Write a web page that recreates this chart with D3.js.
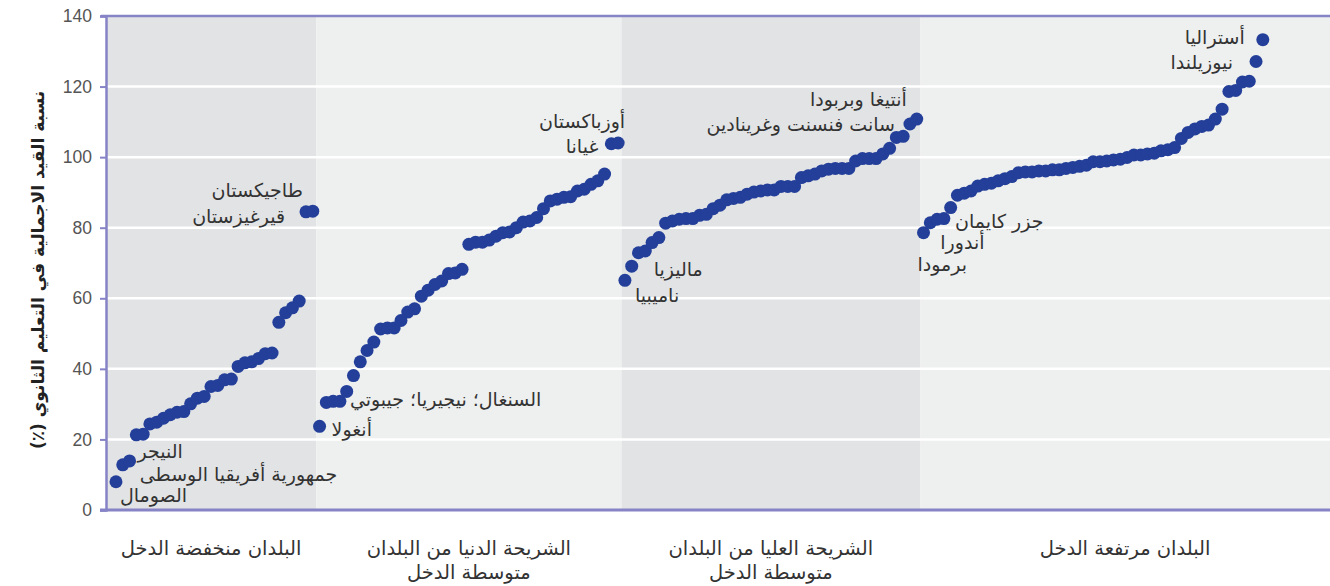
<!DOCTYPE html>
<html lang="ar">
<head>
<meta charset="utf-8">
<title>نسبة القيد الاجمالية في التعليم الثانوي</title>
<script src="https://cdn.jsdelivr.net/npm/d3@7"></script>
<style>
  body { margin: 0; background: #fff; }
  svg text { font-family: "DejaVu Sans", "Noto Sans", sans-serif; }
</style>
</head>
<body>
<div id="chart"></div>
<script>
// income groups (sorted within each group)
var groups = ["البلدان منخفضة الدخل", "الشريحة الدنيا من البلدان|متوسطة الدخل",
              "الشريحة العليا من البلدان|متوسطة الدخل", "البلدان مرتفعة الدخل"];

var lowIncome = [8.0, 12.8, 13.9, 21.3, 21.5, 24.4, 24.9, 26.0, 27.0, 27.7, 27.9, 30.1, 31.7, 32.2, 35.0,
  35.3, 36.9, 37.1, 40.7, 41.7, 42.0, 42.9, 44.3, 44.5, 53.2, 55.9, 57.3, 59.2, 84.5, 84.7];

var lowerMiddle = [23.7, 30.5, 30.8, 30.8, 33.6, 38.1, 42.0, 45.2, 47.6, 51.3, 51.6, 51.6, 53.7, 56.1, 57.0,
  60.6, 62.3, 63.9, 64.9, 67.0, 67.2, 68.2, 75.3, 75.9, 75.9, 76.5, 77.6, 78.6, 78.8, 80.0, 81.6, 81.9,
  82.9, 85.4, 87.6, 88.1, 88.6, 88.8, 90.4, 90.9, 92.3, 93.3, 95.2, 103.8, 104.0];

var upperMiddle = [65.1, 69.1, 72.9, 73.4, 75.8, 77.2, 81.3, 81.9, 82.4, 82.6, 82.6, 83.5, 83.8, 85.4, 86.4,
  87.9, 88.3, 88.6, 89.5, 90.1, 90.4, 90.7, 90.7, 91.7, 91.7, 91.7, 94.2, 94.7, 95.2, 96.1, 96.6, 96.8,
  96.8, 96.8, 98.9, 99.6, 99.6, 99.6, 100.9, 102.5, 105.6, 105.9, 109.4, 110.8];

var highIncome = [78.6, 81.4, 82.4, 82.6, 85.7, 89.2, 89.8, 90.4, 91.8, 92.3, 92.6, 93.3, 93.9, 94.5, 95.6,
  95.8, 95.8, 96.1, 96.1, 96.4, 96.4, 96.8, 97.1, 97.4, 97.7, 98.7, 98.7, 98.9, 99.2, 99.4, 99.9, 100.6,
  100.6, 100.9, 101.1, 101.8, 102.1, 102.7, 105.3, 107.0, 108.0, 108.7, 109.1, 110.8, 113.6, 118.6, 118.9,
  121.3, 121.5, 127.1, 133.3];

var yTicks = [0, 20, 40, 60, 80, 100, 120, 140];

// labelled countries: point index, label, offset from the dot, anchor
var labels = [
  [0, "الصومال", 4, 13, "start"],
  [1, "جمهورية أفريقيا الوسطى", 17, 9, "start"],
  [2, "النيجر", 8, -10, "start"],
  [28, "قيرغيزستان", -21, 4, "end"],
  [29, "طاجيكستان", -10, -21, "end"],
  [30, "أنغولا", 12, 3, "start"],
  [33, "السنغال؛ نيجيريا؛ جيبوتي", 10, -2, "start"],
  [73, "غيانا", -13, 2, "end"],
  [74, "أوزباكستان", 7, -22, "end"],
  [75, "ناميبيا", 10, 15, "start"],
  [76, "ماليزيا", 22, 3, "start"],
  [117, "سانت فنسنت وغرينادين", -15, 0, "end"],
  [118, "أنتيغا وبربودا", -10, -20, "end"],
  [119, "برمودا", -6, 31, "start"],
  [120, "أندورا", 10, 19, "start"],
  [121, "جزر كايمان", 18, 2, "start"],
  [168, "نيوزيلندا", -23, 0, "end"],
  [169, "أستراليا", -18, -3, "end"]
];

var width = 1330, height = 586;
var plotLeft = 106, plotRight = 1330, plotTop = 16, plotBottom = 510;

var series = [lowIncome, lowerMiddle, upperMiddle, highIncome];
var points = [];
var bands = [];
var idx = 0;
series.forEach(function (s, g) {
  bands.push([idx - 0.5, idx + s.length - 0.5]);
  s.forEach(function (v) { points.push({ i: idx++, v: v, g: g }); });
});

var x = d3.scaleLinear().domain([-1.47, 178.9]).range([plotLeft, plotRight]);
var y = d3.scaleLinear().domain([0, 140]).range([plotBottom, plotTop]);
bands[0][0] = x.domain()[0];
bands[3][1] = x.domain()[1];

var svg = d3.select("#chart").append("svg")
  .attr("width", width).attr("height", height);

// band backgrounds
svg.selectAll(".band").data(bands).enter().append("rect")
  .attr("x", function (d) { return x(d[0]); })
  .attr("width", function (d) { return x(d[1]) - x(d[0]); })
  .attr("y", plotTop).attr("height", plotBottom - plotTop)
  .attr("fill", function (d, i) { return i % 2 == 0 ? "#e2e3e5" : "#eeefef"; });

// white gridlines
svg.selectAll(".grid").data(yTicks.slice(1, -1)).enter().append("line")
  .attr("x1", plotLeft).attr("x2", plotRight)
  .attr("y1", function (d) { return y(d); }).attr("y2", function (d) { return y(d); })
  .attr("stroke", "#fff").attr("stroke-width", 2.5);

// y axis
var axis = svg.append("g").attr("transform", "translate(" + plotLeft + ",0)")
  .call(d3.axisLeft(y).tickValues(yTicks).tickSize(6).tickPadding(8));
axis.select(".domain").attr("stroke", "#8683c6").attr("stroke-width", 2.5);
axis.selectAll(".tick line").attr("stroke", "#8683c6").attr("stroke-width", 2);
axis.selectAll(".tick text").attr("fill", "#555").style("font-size", "17.5px")
  .style("font-family", "'Liberation Sans', Arial, sans-serif");

// top and bottom lines
svg.append("line").attr("x1", plotLeft - 5).attr("x2", plotRight)
  .attr("y1", y(140)).attr("y2", y(140)).attr("stroke", "#8683c6").attr("stroke-width", 2.5);
svg.append("line").attr("x1", plotLeft - 6).attr("x2", plotRight)
  .attr("y1", y(0)).attr("y2", y(0)).attr("stroke", "#8683c6").attr("stroke-width", 3);

// dots
svg.selectAll(".dot").data(points).enter().append("circle")
  .attr("cx", function (d) { return x(d.i); })
  .attr("cy", function (d) { return y(d.v); })
  .attr("r", 6.5)
  .attr("fill", "#233f99");

// country labels
svg.selectAll(".lab").data(labels).enter().append("text")
  .attr("x", function (d) { return x(d[0]) + d[2]; })
  .attr("y", function (d) { return y(points[d[0]].v) + d[3]; })
  .attr("dominant-baseline", "central")
  .attr("text-anchor", function (d) { return d[4]; })
  .attr("fill", "#333")
  .style("font-size", "19px")
  .text(function (d) { return d[1]; });

// group labels under the axis
groups.forEach(function (g, i) {
  var cx = x((bands[i][0] + bands[i][1]) / 2);
  g.split("|").forEach(function (line, j) {
    svg.append("text")
      .attr("x", cx).attr("y", 548 + j * 24)
      .attr("text-anchor", "middle")
      .attr("dominant-baseline", "central")
      .attr("fill", "#333")
      .style("font-size", "19.5px")
      .text(line);
  });
});

// y axis title
svg.append("text")
  .attr("transform", "translate(38,270) rotate(-90)")
  .attr("direction", "rtl")
  .attr("text-anchor", "middle")
  .attr("dominant-baseline", "central")
  .attr("fill", "#222")
  .style("font-size", "17px")
  .style("font-weight", "bold")
  .text("نسبة القيد الاجمالية في التعليم الثانوي (٪)");
</script>
</body>
</html>
